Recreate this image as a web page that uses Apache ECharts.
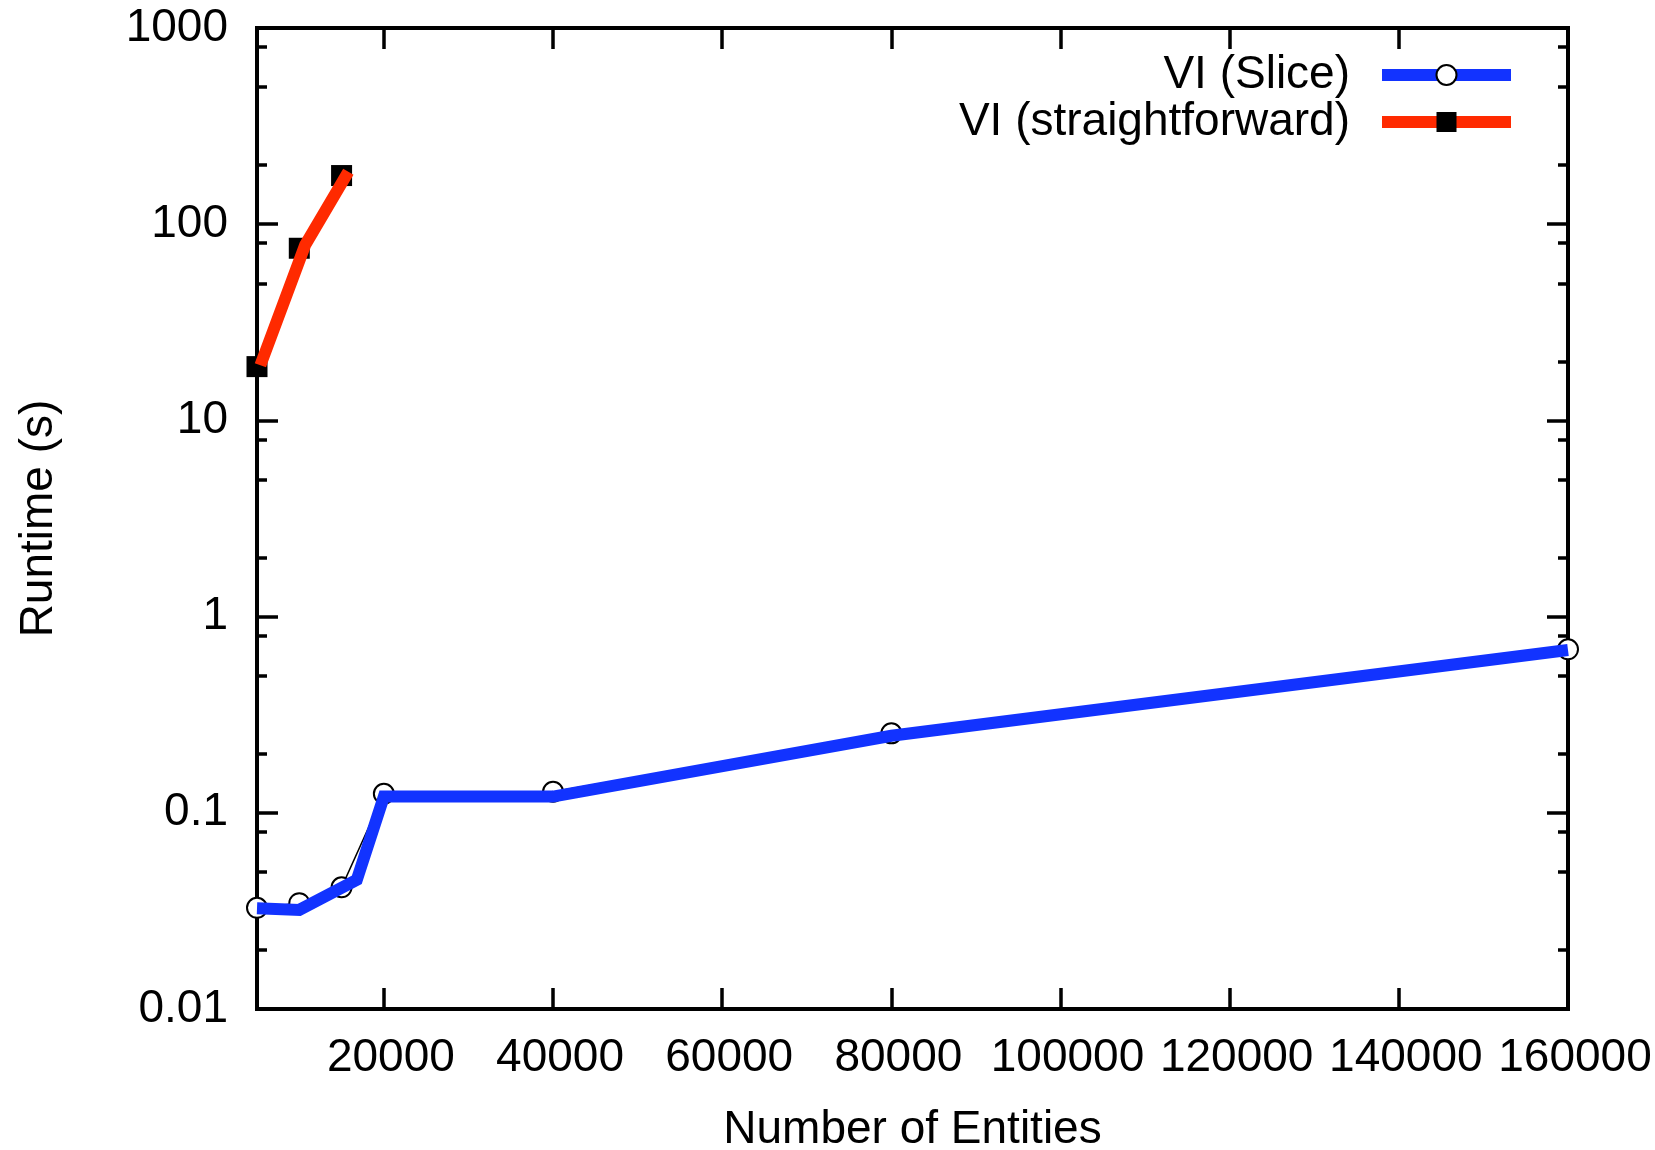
<!DOCTYPE html>
<html>
<head>
<meta charset="utf-8">
<script src="https://cdn.jsdelivr.net/npm/echarts@6/dist/echarts.min.js"></script>
<style>
html,body{margin:0;padding:0;background:#fff;}
#c{width:1655px;height:1150px;}
</style>
</head>
<body>
<div id="c"></div>
<script>
// ---- data ----
const xTicks = [20000, 40000, 60000, 80000, 100000, 120000, 140000, 160000];
const yTicks = [0.01, 0.1, 1, 10, 100, 1000];
const yMinorTicks = [0.02, 0.05, 0.08, 0.2, 0.5, 0.8, 2, 5, 8, 20, 50, 80, 200, 500, 800];

// VI (Slice): marker points
const sliceX = [5000, 10000, 15000, 20000, 40000, 80000, 160000];
const sliceMarkers = [0.0328, 0.0346, 0.0417, 0.125, 0.128, 0.254, 0.681];
// VI (Slice): thick line vertices
const sliceLineX = [5000, 10000, 16800, 20000, 40000, 80000, 160000];
const sliceLineY = [0.0326, 0.0320, 0.0455, 0.121, 0.121, 0.247, 0.676];

// VI (straightforward): marker points
const straightX = [5000, 10000, 15000];
const straightMarkers = [18.8, 75.4, 177];
// VI (straightforward): thick line vertices
const straightLineX = [5400, 10700, 15800];
const straightLineY = [19.1, 78.5, 185];

const FONT = 'Liberation Sans';
const BLUE = '#1233ff';
const RED = '#ff2a00';

const pairs = (xs, ys) => xs.map((x, i) => [x, ys[i]]);

const chart = echarts.init(document.getElementById('c'), null, {renderer: 'canvas'});

const baseX = {type: 'value', min: 5000, max: 160000, splitLine: {show: false}, axisLine: {show: false}};
const baseY = {type: 'log', logBase: 10, min: 0.01, max: 1000, splitLine: {show: false}, axisLine: {show: false}};
const tickStyle = {color: '#000', width: 3.5};

const legendCommon = {
  padding: 0, orient: 'vertical', align: 'right', right: 138,
  itemWidth: 129, itemHeight: 25, selectedMode: false, lineStyle: {width: 12},
  textStyle: {fontFamily: FONT, fontSize: 46, color: '#000', padding: [0, 27, 0, 0]}
};

const option = {
  animation: false,
  backgroundColor: '#fff',
  grid: {left: 257, right: 87, top: 28, bottom: 141, show: true, borderColor: '#000', borderWidth: 4, backgroundColor: 'transparent', outerBoundsMode: 'none'},
  legend: [
    Object.assign({}, legendCommon, {data: [{name: 'VI (Slice)', itemStyle: {color: '#000'}}], top: 52}),
    Object.assign({}, legendCommon, {data: [{name: 'VI (straightforward)', itemStyle: {color: '#000'}}], top: 99})
  ],
  xAxis: [
    Object.assign({}, baseX, {
      position: 'bottom',
      name: 'Number of Entities', nameLocation: 'middle', nameGap: 98,
      nameTextStyle: {fontFamily: FONT, fontSize: 46, color: '#000'},
      axisTick: {show: true, inside: true, length: 21, lineStyle: tickStyle, customValues: xTicks},
      axisLabel: {show: true, margin: 26, fontFamily: FONT, fontSize: 46, color: '#000', padding: [0, 0, 0, 14], customValues: xTicks, formatter: v => String(v)}
    }),
    Object.assign({}, baseX, {
      position: 'top',
      axisTick: {show: true, inside: true, length: 21, lineStyle: tickStyle, customValues: xTicks},
      axisLabel: {show: false}
    })
  ],
  yAxis: [
    Object.assign({}, baseY, {
      position: 'left',
      name: 'Runtime (s)', nameLocation: 'middle', nameGap: 195,
      nameTextStyle: {fontFamily: FONT, fontSize: 46, color: '#000'},
      axisTick: {show: true, inside: true, length: 21, lineStyle: tickStyle, customValues: yTicks},
      axisLabel: {show: true, margin: 29, fontFamily: FONT, fontSize: 46, color: '#000', customValues: yTicks, formatter: v => String(+(+v).toPrecision(3))}
    }),
    Object.assign({}, baseY, {
      position: 'left',
      axisTick: {show: true, inside: true, length: 10, lineStyle: tickStyle, customValues: yMinorTicks},
      axisLabel: {show: false}
    }),
    Object.assign({}, baseY, {
      position: 'right',
      axisTick: {show: true, inside: true, length: 21, lineStyle: tickStyle, customValues: yTicks},
      axisLabel: {show: false}
    }),
    Object.assign({}, baseY, {
      position: 'right',
      axisTick: {show: true, inside: true, length: 10, lineStyle: tickStyle, customValues: yMinorTicks},
      axisLabel: {show: false}
    })
  ],
  series: [
    {
      name: 'VI (Slice) points', type: 'line', xAxisIndex: 0, yAxisIndex: 0, z: 2,
      data: pairs(sliceX, sliceMarkers),
      symbol: 'emptyCircle', symbolSize: 20, showSymbol: true, clip: false,
      lineStyle: {color: '#000', width: 1.5},
      itemStyle: {color: '#000', borderColor: '#000', borderWidth: 1.5},
      emphasis: {disabled: true}, silent: true
    },
    {
      name: 'VI (straightforward) points', type: 'line', xAxisIndex: 0, yAxisIndex: 0, z: 2,
      data: pairs(straightX, straightMarkers),
      symbol: 'rect', symbolSize: 21, showSymbol: true, clip: false,
      lineStyle: {color: '#000', width: 1.5},
      itemStyle: {color: '#000'},
      emphasis: {disabled: true}, silent: true
    },
    {
      name: 'VI (Slice)', type: 'line', xAxisIndex: 0, yAxisIndex: 0, z: 3,
      data: pairs(sliceLineX, sliceLineY),
      symbol: 'emptyCircle', showSymbol: false,
      lineStyle: {color: BLUE, width: 12, cap: 'butt', join: 'miter'},
      itemStyle: {color: BLUE},
      emphasis: {disabled: true}, silent: true
    },
    {
      name: 'VI (straightforward)', type: 'line', xAxisIndex: 0, yAxisIndex: 0, z: 3,
      data: pairs(straightLineX, straightLineY),
      symbol: 'rect', showSymbol: false,
      lineStyle: {color: RED, width: 12, cap: 'butt', join: 'miter'},
      itemStyle: {color: RED},
      emphasis: {disabled: true}, silent: true
    }
  ]
};
chart.setOption(option);
</script>
</body>
</html>
